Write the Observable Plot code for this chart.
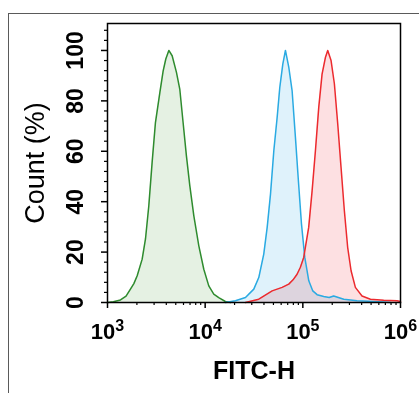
<!DOCTYPE html>
<html>
<head>
<meta charset="utf-8">
<script src="https://cdn.jsdelivr.net/npm/d3@7"></script>
<script src="https://cdn.jsdelivr.net/npm/@observablehq/plot@0.6"></script>
<style>
  html, body { margin: 0; padding: 0; background: #fff; }
  #wrap { position: relative; width: 419px; height: 393px; overflow: hidden; }
  #outer { position: absolute; left: 8px; top: 13px; width: 440px; height: 420px; border: 1.5px solid #5a5a5a; box-sizing: border-box; pointer-events: none; }
  svg { font-family: "Liberation Sans", Arial, sans-serif; }
</style>
</head>
<body>
<div id="wrap"><div id="outer"></div></div>
<script>
// x values are log10(FITC-H); y values are Count (%)
const greenLogX = [3.00, 3.06, 3.133, 3.19, 3.235, 3.27, 3.304, 3.355, 3.389, 3.423, 3.457, 3.491, 3.536, 3.570, 3.597, 3.628, 3.662, 3.706, 3.740, 3.774, 3.808, 3.843, 3.884, 3.935, 3.986, 4.037, 4.088, 4.139, 4.207, 4.26];
const greenY    = [0, 0.3, 1, 2.5, 5.3, 7.5, 10.6, 17.2, 25.2, 38.4, 55.6, 71.4, 83.3, 91.9, 96.6, 100, 97.9, 91.3, 84.7, 71.4, 58.2, 46.3, 34.4, 22.5, 13.2, 6.6, 3.3, 1.9, 0.4, 0];

const blueLogX = [4.208, 4.31, 4.413, 4.498, 4.549, 4.60, 4.635, 4.669, 4.703, 4.737, 4.764, 4.795, 4.822, 4.856, 4.89, 4.924, 4.952, 4.986, 5.02, 5.061, 5.102, 5.146, 5.214, 5.27, 5.316, 5.419, 5.555, 5.726, 5.897];
const blueY    = [0, 0.7, 2, 5.3, 9.9, 19.2, 29.8, 43, 60.2, 73.4, 85.3, 94.6, 100, 93.4, 84.1, 65.6, 49.7, 31.2, 17.9, 8.6, 4.6, 3.1, 2.4, 2.0, 2.6, 1.3, 0.7, 0.4, 0];

const redLogX = [4.413, 4.549, 4.686, 4.788, 4.856, 4.90, 4.941, 4.975, 5.009, 5.06, 5.095, 5.129, 5.163, 5.197, 5.231, 5.255, 5.289, 5.323, 5.357, 5.391, 5.425, 5.459, 5.494, 5.538, 5.606, 5.692, 5.828, 5.965, 6.0];
const redY    = [0, 1.3, 4.6, 6, 7.3, 9, 11.2, 14, 17.9, 29.8, 44.3, 60.2, 77.4, 90.6, 97.2, 100, 96, 86.8, 71, 53.7, 36.5, 21.9, 12.6, 6, 2.6, 1.3, 0.9, 0.7, 0.4];

const xTickValues = [1e3, 1e4, 1e5, 1e6];
const yTickValues = [0, 20, 40, 60, 80, 100];
const xTitle = "FITC-H";
const yTitle = "Count (%)";

const toRows = (lx, ys) => lx.map((l, i) => ({x: Math.pow(10, l), y: ys[i]}));
const green = toRows(greenLogX, greenY);
const blue = toRows(blueLogX, blueY);
const red = toRows(redLogX, redY);

const xMinor = [];
for (const d of [1e3, 1e4, 1e5]) for (let k = 2; k <= 9; k++) xMinor.push(k * d);
const yMinor = d3.range(0, 109, 4).filter(v => v % 20 !== 0);

const plot = Plot.plot({
  width: 419,
  height: 393,
  marginLeft: 107,
  marginRight: 19,
  marginTop: 23,
  marginBottom: 91,
  style: {background: "transparent", fontFamily: "Liberation Sans, Arial, sans-serif", overflow: "visible"},
  x: {type: "log", domain: [1e3, 1e6]},
  y: {domain: [0, 110.7]},
  marks: [
    Plot.areaY(green, {x: "x", y: "y", fill: "#e5f1e3", mixBlendMode: "multiply"}),
    Plot.areaY(blue, {x: "x", y: "y", fill: "#dff2fb", mixBlendMode: "multiply"}),
    Plot.areaY(red, {x: "x", y: "y", fill: "#fde0e2", mixBlendMode: "multiply"}),
    Plot.lineY(green, {x: "x", y: "y", stroke: "#2e8b2e", strokeWidth: 1.5}),
    Plot.lineY(blue, {x: "x", y: "y", stroke: "#2aaae2", strokeWidth: 1.5}),
    Plot.lineY(red, {x: "x", y: "y", stroke: "#ec2a2e", strokeWidth: 1.5}),
    Plot.frame({stroke: "#000", strokeWidth: 1.5}),
    Plot.axisX({ticks: xMinor, tickSize: 3, tickFormat: () => "", label: null, strokeWidth: 1.2}),
    Plot.axisX({ticks: xTickValues, tickSize: 6, tickPadding: 15, label: null, strokeWidth: 1.5,
      fontSize: 22, fontWeight: "bold", fill: "#000",
      tickFormat: d => "10^" + Math.round(Math.log10(d))}),
    Plot.axisY({ticks: yMinor, tickSize: 3, tickFormat: () => "", label: null, strokeWidth: 1.2}),
    Plot.axisY({ticks: yTickValues, tickSize: 6, tickFormat: () => "", label: null, strokeWidth: 1.5}),
    Plot.text(yTickValues, {y: d => d, text: d => String(d), frameAnchor: "left", textAnchor: "middle", dx: -32, rotate: -90,
      fontSize: 23, fontWeight: "bold", fill: "#000"}),
    Plot.text([yTitle], {text: d => d, frameAnchor: "left", textAnchor: "middle", dx: -72, rotate: -90, fontSize: 27, fill: "#000"}),
    Plot.text([xTitle], {text: d => d, frameAnchor: "bottom", dy: 76, fontSize: 25, fontWeight: "bold", fill: "#000"})
  ]
});

// superscript exponents on the x tick labels
plot.querySelectorAll('g[aria-label="x-axis tick label"] text').forEach(t => {
  const s = t.textContent;
  const m = s.match(/^10\^(\d+)$/);
  if (!m) return;
  while (t.firstChild) t.removeChild(t.firstChild);
  const ns = "http://www.w3.org/2000/svg";
  const base = document.createElementNS(ns, "tspan");
  base.textContent = "10";
  const sup = document.createElementNS(ns, "tspan");
  sup.textContent = m[1];
  sup.setAttribute("font-size", "16");
  sup.setAttribute("dy", "-8");
  t.appendChild(base);
  t.appendChild(sup);
});

const wrap = document.getElementById("wrap");
plot.style.position = "absolute";
plot.style.left = "0px";
plot.style.top = "0px";
wrap.insertBefore(plot, wrap.firstChild);
</script>
</body>
</html>
